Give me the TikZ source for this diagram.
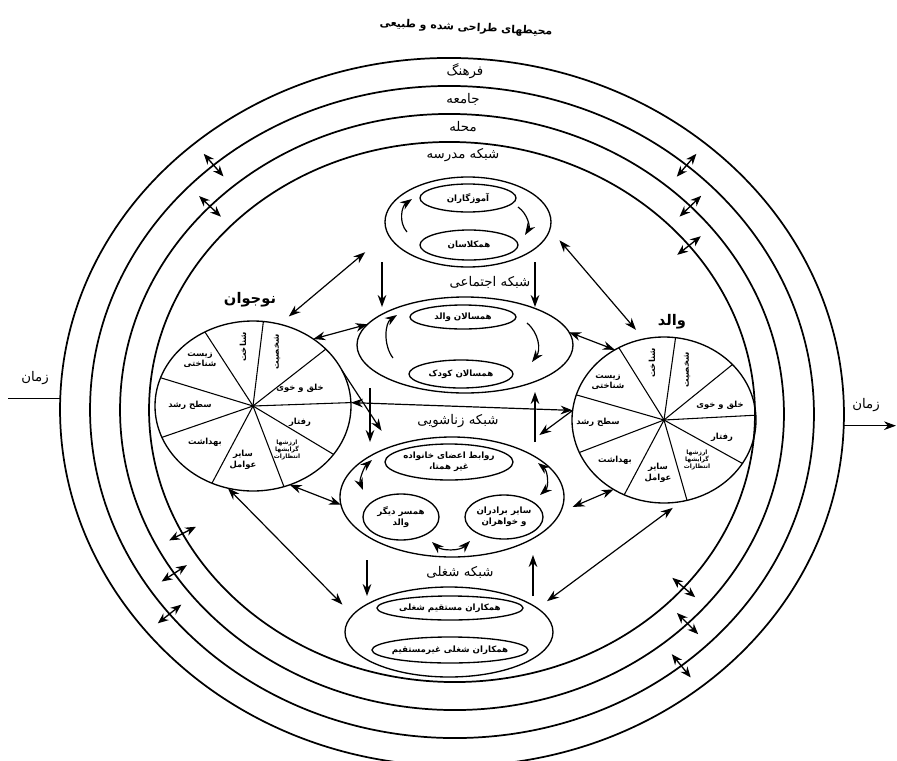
\documentclass[tikz,border=0pt]{standalone}
\usepackage{fontspec}
\usetikzlibrary{shapes.geometric,arrows.meta,calc}
\newfontfamily\persian[Script=Arabic]{DejaVu Sans}
\TeXXeTstate=1
\newcommand{\fa}[1]{{\persian\beginR #1\endR}}
\begin{document}
\begin{tikzpicture}[x=0.75pt,y=-0.75pt,
  ring/.style={line width=1.3pt},
  ell/.style={ellipse,draw,line width=1pt,inner sep=0pt,outer sep=0pt},
  spoke/.style={line width=0.8pt},
  arr/.style={line width=0.9pt,-{Stealth[length=9pt,width=6.5pt]}},
  dbl/.style={line width=0.9pt,{Stealth[length=9pt,width=6.5pt]}-{Stealth[length=9pt,width=6.5pt]}},
  rarr/.style={line width=1pt,{Stealth[length=8pt,width=6.5pt]}-{Stealth[length=8pt,width=6.5pt]}},
  lbl/.style={font=\fontsize{10}{12}\selectfont,inner sep=0pt},
  ttl/.style={font=\bfseries\fontsize{11}{13}\selectfont,inner sep=0pt},
  plbl/.style={font=\bfseries\fontsize{6.3}{8}\selectfont,align=center,inner sep=0pt},
  slbl/.style={font=\bfseries\fontsize{4.5}{5.5}\selectfont,align=center,inner sep=0pt},
  elbl/.style={font=\bfseries\fontsize{6.5}{8.5}\selectfont,align=center,inner sep=0pt}]
\useasboundingbox (0,0) rectangle (897,761);
\fill[white] (0,0) rectangle (897,761);

% title
\node[font=\bfseries\fontsize{8.2}{10}\selectfont,rotate=-3] (title) at (466,28) {\fa{محیطهای طراحی شده و طبیعی}};

% rings
\begin{scope}[shift={(452,412)},rotate=-2]
  \draw[ring] (0,0) ellipse [x radius=392,y radius=354];
  \draw[ring] (0,0) ellipse [x radius=362,y radius=326];
  \draw[ring] (0,0) ellipse [x radius=332,y radius=298];
  \draw[ring] (0,0) ellipse [x radius=303,y radius=270];
  \coordinate (tL) at (180:392 and 354);
  \coordinate (tR) at (0:392 and 354);
  % ring crossing arrows
  \draw[rarr] (227:347 and 311) -- (227:377 and 341);
  \draw[rarr] (221.4:317 and 283) -- (221.4:347 and 313);
  \draw[rarr] (308.6:347 and 311) -- (308.6:377 and 341);
  \draw[rarr] (314.1:317 and 283) -- (314.1:347 and 313);
  \draw[rarr] (319.7:288 and 255) -- (319.7:318 and 285);
  \draw[rarr] (151:288 and 255) -- (151:318 and 285);
  \draw[rarr] (145:317 and 283) -- (145:347 and 313);
  \draw[rarr] (139.5:347 and 311) -- (139.5:377 and 341);
  \draw[rarr] (38.3:288 and 255) -- (38.3:318 and 285);
  \draw[rarr] (43:317 and 283) -- (43:347 and 313);
  \draw[rarr] (48.9:347 and 311) -- (48.9:377 and 341);
\end{scope}

% ring labels
\node[lbl] (culture) at (465,71) {\fa{فرهنگ}};
\node[lbl] (society) at (463,99) {\fa{جامعه}};
\node[lbl] (local) at (463,127) {\fa{محله}};
\node[lbl] (schooltxt) at (463,155) {\fa{شبکه مدرسه}};

% time
\coordinate (edgeL) at (8,0);
\coordinate (edgeR) at (896,0);
\draw[line width=1pt] (tL) -- (tL -| edgeL);
\draw[arr] (tR) -- (tR -| edgeR);
\node[lbl] (timeL) at (35,378) {\fa{زمان}};
\node[lbl] (timeR) at (866,405) {\fa{زمان}};

% school network
\node[ell,minimum width=124.5pt,minimum height=67.5pt] (sch) at (468,222) {};
\node[ell,minimum width=72pt,minimum height=21pt] (teach) at (468,198) {};
\node[ell,minimum width=73.5pt,minimum height=22.5pt] (class) at (469,245) {};
\node[elbl] at (teach) {\fa{آموزگاران}};
\node[elbl] at (class) {\fa{همکلاسان}};
\draw[arr] ($(sch)+(-61,10)$) .. controls ($(sch)+(-70,0)$) and ($(sch)+(-66,-16)$) .. ($(sch)+(-56,-23)$);
\draw[arr] ($(sch)+(50,-15)$) .. controls ($(sch)+(60,-8)$) and ($(sch)+(62,5)$) .. ($(sch)+(57,13)$);

% social network
\node[lbl] (soctxt) at (490,282) {\fa{شبکه اجتماعی}};
\node[ell,minimum width=162pt,minimum height=72pt] (soc) at (465,345) {};
\node[ell,minimum width=79.5pt,minimum height=18pt] (pp) at (463,317) {};
\node[ell,minimum width=78pt,minimum height=21pt] (pc) at (461,374) {};
\node[elbl] at (pp) {\fa{همسالان والد}};
\node[elbl] at (pc) {\fa{همسالان کودک}};
\draw[arr] ($(soc)+(-72,13)$) .. controls ($(soc)+(-82,0)$) and ($(soc)+(-80,-22)$) .. ($(soc)+(-68,-30)$);
\draw[arr] ($(soc)+(62,-22)$) .. controls ($(soc)+(74,-12)$) and ($(soc)+(76,5)$) .. ($(soc)+(67,17)$);

% marital network
\node[lbl] (martxt) at (458,421) {\fa{شبکه زناشویی}};
\node[ell,minimum width=168pt,minimum height=90pt] (mar) at (452,497) {};
\node[ell,minimum width=96pt,minimum height=27pt] (fam) at (449,462) {};
\node[ell,minimum width=57pt,minimum height=34.5pt] (spouse) at (401,517) {};
\node[ell,minimum width=58.5pt,minimum height=33pt] (sib) at (504,517) {};
\node[elbl] at (fam) {\fa{روابط اعضای خانواده}\\\fa{غیر همتا،}};
\node[elbl] at (spouse) {\fa{همسر دیگر}\\\fa{والد}};
\node[elbl] at (sib) {\fa{سایر برادران}\\\fa{و خواهران}};
\draw[dbl] ($(mar)+(-80,-37)$) .. controls ($(mar)+(-88,-30)$) and ($(mar)+(-93,-17)$) .. ($(mar)+(-89,-7)$);
\draw[dbl] ($(mar)+(86,-34)$) .. controls ($(mar)+(96,-26)$) and ($(mar)+(97,-10)$) .. ($(mar)+(88,-2)$);
\draw[dbl] ($(mar)+(-20,45)$) .. controls ($(mar)+(-10,54)$) and ($(mar)+(8,54)$) .. ($(mar)+(18,44)$);

% work network
\node[lbl] (worktxt) at (460,572) {\fa{شبکه شغلی}};
\node[ell,minimum width=156pt,minimum height=67.5pt] (work) at (449,632) {};
\node[ell,minimum width=109.5pt,minimum height=18pt] (wd) at (450,608) {};
\node[ell,minimum width=117pt,minimum height=19.5pt] (wi) at (450,650) {};
\node[elbl] at (wd) {\fa{همکاران مستقیم شغلی}};
\node[elbl] at (wi) {\fa{همکاران شغلی غیرمستقیم}};

% pies
\node[ell,minimum width=147pt,minimum height=127.5pt] (lpie) at (253,406) {};
\node[ell,minimum width=138pt,minimum height=124.5pt] (rpie) at (664,420) {};
\foreach \a in {83,123,38,163,2,199,329,242,291} \draw[spoke] (lpie.center) -- (lpie.\a);
\foreach \a in {122,82,39,164,3,201,331,242,286} \draw[spoke] (rpie.center) -- (rpie.\a);
\node[ttl] (teen) at (250,300) {\fa{نوجوان}};
\node[ttl] (parent) at (672,322) {\fa{والد}};

% left pie labels
\node[plbl,rotate=90] at ($(lpie)+(-10,-59)$) {\fa{شناخت}};
\node[plbl,rotate=90] at ($(lpie)+(24,-54)$) {\fa{شخصیت}};
\node[plbl] at ($(lpie)+(47,-18)$) {\fa{خلق و خوی}};
\node[plbl] at ($(lpie)+(47,16)$) {\fa{رفتار}};
\node[slbl] at ($(lpie)+(34,44)$) {\fa{ارزشها}\\\fa{گرایشها}\\\fa{انتظارات}};
\node[plbl] at ($(lpie)+(-10,54)$) {\fa{سایر}\\\fa{عوامل}};
\node[plbl] at ($(lpie)+(-48,36)$) {\fa{بهداشت}};
\node[plbl] at ($(lpie)+(-63,-1)$) {\fa{سطح رشد}};
\node[plbl] at ($(lpie)+(-53,-46)$) {\fa{زیست}\\\fa{شناختی}};

% right pie labels
\node[plbl,rotate=90] at ($(rpie)+(-12,-57)$) {\fa{شناخت}};
\node[plbl,rotate=90] at ($(rpie)+(23,-50)$) {\fa{شخصیت}};
\node[plbl] at ($(rpie)+(56,-15)$) {\fa{خلق و خوی}};
\node[plbl] at ($(rpie)+(58,17)$) {\fa{رفتار}};
\node[slbl] at ($(rpie)+(33,40)$) {\fa{ارزشها}\\\fa{گرایشها}\\\fa{انتظارات}};
\node[plbl] at ($(rpie)+(-6,53)$) {\fa{سایر}\\\fa{عوامل}};
\node[plbl] at ($(rpie)+(-49,40)$) {\fa{بهداشت}};
\node[plbl] at ($(rpie)+(-66,2)$) {\fa{سطح رشد}};
\node[plbl] at ($(rpie)+(-56,-38)$) {\fa{زیست}\\\fa{شناختی}};

% vertical arrows between networks
\draw[arr] ($(sch)+(-86,40)$) -- ($(soc)+(-83,-38)$);
\draw[arr] ($(sch)+(67,40)$) -- ($(soc)+(70,-38)$);
\draw[arr] ($(soc)+(-95,43)$) -- ($(mar)+(-82,-55)$);
\draw[arr] ($(mar)+(83,-55)$) -- ($(soc)+(70,47)$);
\draw[arr] ($(mar)+(-85,63)$) -- ($(work)+(-82,-36)$);
\draw[arr] ($(work)+(84,-36)$) -- ($(mar)+(81,58)$);

% pie connectors
\draw[dbl,shorten <=22pt,shorten >=9pt] (sch.188) -- (lpie.72);
\draw[dbl,shorten <=11pt,shorten >=9pt] (sch.355) -- (rpie.104);
\draw[dbl] (lpie.48) -- (soc.168);
\draw[dbl] (soc.7) -- (rpie.125);
\draw[dbl] (lpie.2) -- (rpie.174);
\draw[dbl] (lpie.-65) -- (mar.184);
\draw[dbl,shorten <=10pt] (mar.-8) -- (rpie.-126);
\draw[dbl,shorten >=11pt] (lpie.-107) -- (work.170);
\draw[dbl,shorten <=9pt,shorten >=8pt] (work.15) -- (rpie.-78);
\draw[arr,shorten >=14pt] (lpie.22) -- (mar.140);
\draw[arr,shorten >=18pt] (rpie.174) -- (mar.35);
\end{tikzpicture}
\end{document}
